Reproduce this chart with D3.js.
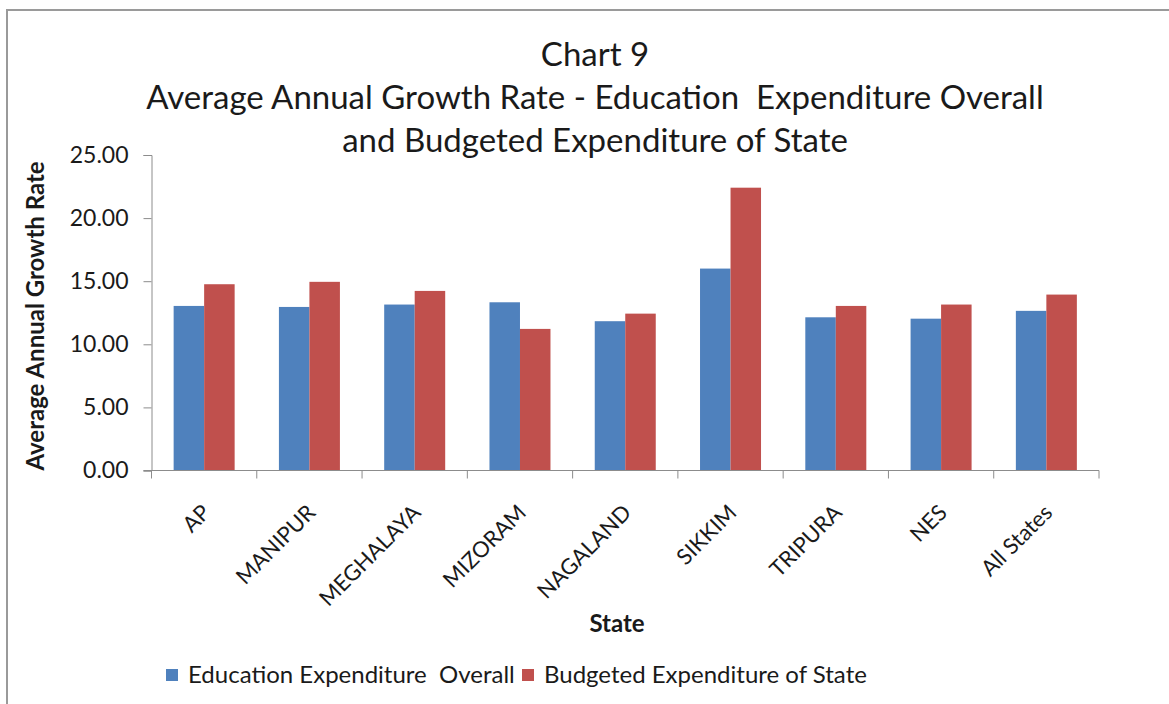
<!DOCTYPE html>
<html>
<head>
<meta charset="utf-8">
<script src="https://cdn.jsdelivr.net/npm/d3@7"></script>
<style>
  html, body { margin: 0; padding: 0; background: #fff; }
  svg { display: block; font-family: Lato, "Open Sans", sans-serif; }
</style>
</head>
<body>
<svg id="chart" width="1169" height="704"></svg>
<script>
// Average annual growth rates by state
const states = ["AP", "MANIPUR", "MEGHALAYA", "MIZORAM", "NAGALAND", "SIKKIM", "TRIPURA", "NES", "All States"];
const educationOverall = [13.04, 12.96, 13.15, 13.33, 11.83, 16.0, 12.14, 12.03, 12.65];
const budgetedState = [14.76, 14.95, 14.23, 11.22, 12.43, 22.41, 13.04, 13.15, 13.94];
const seriesNames = ["Education Expenditure  Overall", "Budgeted Expenditure of State"];
const yTicks = [0, 5, 10, 15, 20, 25];
const titleLines = ["Chart 9", "Average Annual Growth Rate - Education  Expenditure Overall", "and Budgeted Expenditure of State"];

const colors = ["#4F81BD", "#C0504D"];
const axisColor = "#8c8c8c";
const textColor = "#1a1a1a";

const svg = d3.select("#chart");

// outer frame (top and left edges)
svg.append("path")
  .attr("d", "M7,704 V10 H1169")
  .attr("fill", "none")
  .attr("stroke", "#9a9a9a")
  .attr("stroke-width", 2);

const plot = { left: 151.5, right: 1099, top: 155, bottom: 470.5 };

const x = d3.scaleBand().domain(states).range([plot.left, plot.right]).paddingInner(0).paddingOuter(0);
const xSeries = d3.scaleBand().domain([0, 1]).range([0, 61]);
const y = d3.scaleLinear().domain([0, 25]).range([plot.bottom, plot.top]);

// title
svg.append("g").selectAll("text")
  .data(titleLines)
  .join("text")
  .attr("x", 595)
  .attr("y", (d, i) => 66 + i * 43)
  .attr("text-anchor", "middle")
  .attr("font-size", 33)
  .attr("fill", textColor)
  .style("white-space", "pre")
  .text(d => d);

// y axis
const yAxis = svg.append("g")
  .attr("transform", `translate(${plot.left},0)`)
  .call(d3.axisLeft(y).tickValues(yTicks).tickFormat(d3.format(".2f")).tickSize(8).tickPadding(15));
yAxis.selectAll("line, path").attr("stroke", axisColor);
yAxis.selectAll("text").attr("font-size", 23).attr("fill", textColor).attr("font-family", "Lato, sans-serif");

// bars
const groups = svg.append("g").selectAll("g")
  .data(states)
  .join("g")
  .attr("transform", d => `translate(${x(d) + x.bandwidth() / 2 - 30.5},0)`);

groups.selectAll("rect")
  .data((d, i) => [educationOverall[i], budgetedState[i]])
  .join("rect")
  .attr("x", (d, j) => xSeries(j))
  .attr("width", xSeries.bandwidth())
  .attr("y", d => y(d))
  .attr("height", d => y(0) - y(d))
  .attr("fill", (d, j) => colors[j]);

// x axis: ticks fall between categories
const xAxis = svg.append("g")
  .attr("transform", `translate(0,${plot.bottom})`);
xAxis.append("line")
  .attr("x1", plot.left - 8).attr("x2", plot.right)
  .attr("stroke", axisColor);
xAxis.selectAll("line.tick")
  .data(d3.range(states.length + 1))
  .join("line")
  .attr("class", "tick")
  .attr("x1", i => plot.left + i * x.step())
  .attr("x2", i => plot.left + i * x.step())
  .attr("y1", 0).attr("y2", 8)
  .attr("stroke", axisColor);

// rotated category labels
svg.append("g").selectAll("text")
  .data(states)
  .join("text")
  .attr("transform", d => `translate(${x(d) + x.bandwidth() / 2 + 2},${plot.bottom + 38}) rotate(-45)`)
  .attr("text-anchor", "end")
  .attr("dy", "0.35em")
  .attr("font-size", 22)
  .attr("fill", textColor)
  .text(d => d);

// axis titles
svg.append("text")
  .attr("x", 617).attr("y", 632)
  .attr("text-anchor", "middle")
  .attr("font-size", 24)
  .attr("font-weight", "bold")
  .attr("fill", textColor)
  .text("State");

svg.append("text")
  .attr("transform", "translate(44,316) rotate(-90)")
  .attr("text-anchor", "middle")
  .attr("font-size", 24)
  .attr("font-weight", "bold")
  .attr("fill", textColor)
  .text("Average Annual Growth Rate");

// legend
const legendX = [166, 522];
const legend = svg.append("g").selectAll("g")
  .data(seriesNames)
  .join("g")
  .attr("transform", (d, i) => `translate(${legendX[i]},669)`);
legend.append("rect")
  .attr("width", 12).attr("height", 12)
  .attr("fill", (d, i) => colors[i]);
legend.append("text")
  .attr("x", 22).attr("y", 6)
  .attr("dy", "0.35em")
  .attr("font-size", 24)
  .attr("fill", textColor)
  .style("white-space", "pre")
  .text(d => d);
</script>
</body>
</html>
